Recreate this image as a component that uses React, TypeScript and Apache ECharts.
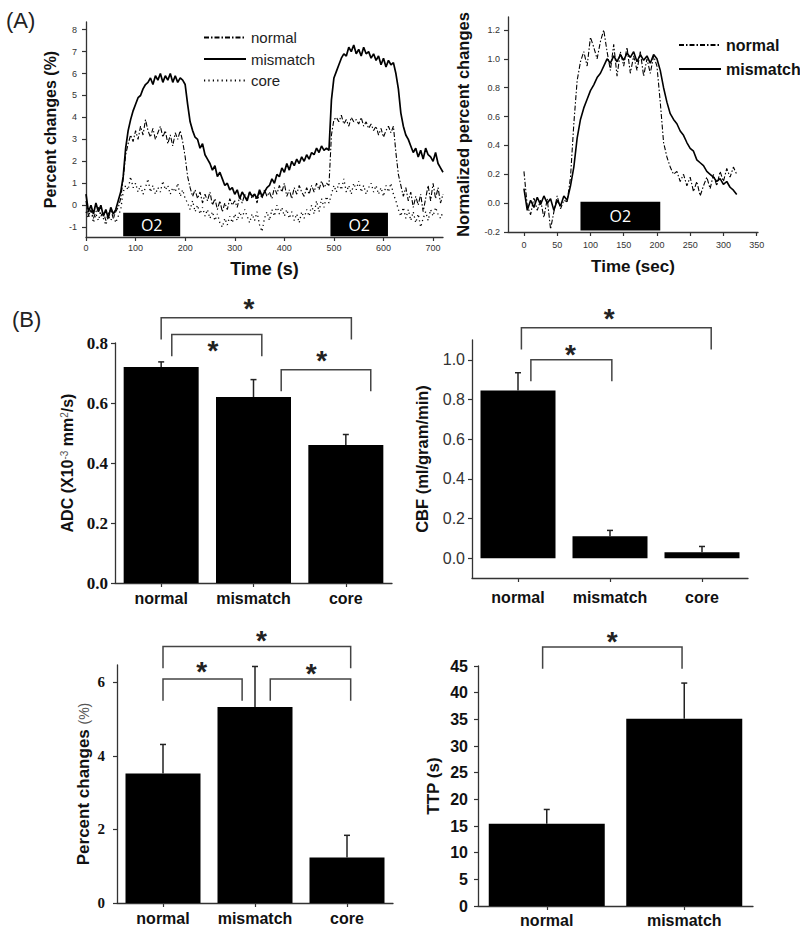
import React, { useEffect, useRef } from 'react';
import * as echarts from 'echarts';

// ---------- Panel A (left): percent change time courses, sampled every 5 s ----------
const timeStepA1 = 5;
const mismatchA1 = [
  0.5, -0.3, 0.0, -0.4, 0.1, -0.3, 0.0, -0.5, -0.2, -0.6,
  -0.1, -0.4, -0.2, 0.2, 0.6, 1.3, 2.6, 3.4, 3.9, 4.3,
  4.6, 4.9, 5.0, 5.3, 5.5, 5.6, 5.8, 5.5, 5.9, 5.7,
  6.0, 5.6, 5.9, 5.7, 6.0, 5.6, 5.9, 5.6, 5.8, 5.7,
  5.5, 4.6, 3.8, 3.4, 3.1, 3.0, 2.6, 2.8, 2.3, 2.1,
  1.9, 1.6, 1.8, 1.3, 1.5, 1.2, 0.9, 1.0, 0.7, 0.8,
  0.5, 0.7, 0.3, 0.6, 0.4, 0.2, 0.6, 0.4, 0.5, 0.3,
  0.7, 0.4, 0.6, 0.8, 0.9, 1.2, 1.0, 1.4, 1.3, 1.7,
  1.5, 1.9, 1.6, 2.0, 1.8, 2.1, 1.9, 2.2, 2.0, 2.3,
  2.1, 2.4, 2.3, 2.6, 2.4, 2.7, 2.5, 2.6, 2.5, 4.8,
  5.8, 6.1, 6.4, 6.7, 6.9, 6.8, 7.2, 7.0, 7.3, 6.9,
  7.1, 6.8, 7.2, 6.9, 7.0, 6.7, 6.9, 6.6, 6.8, 6.4,
  6.7, 6.3, 6.6, 6.4, 6.5, 6.0, 5.3, 4.2, 3.6, 3.2,
  3.0, 2.7, 2.4, 2.6, 2.2, 2.5, 2.1, 2.6, 2.3, 2.2,
  2.0, 2.4, 1.9, 1.7, 1.5,
];
const normalA1 = [
  0.2, -0.5, -0.2, -0.6, -0.3, -0.1, -0.5, -0.3, -0.7, -0.4,
  -0.2, -0.6, -0.3, -0.1, 0.3, 1.2, 2.3, 2.8, 3.2, 2.9,
  3.4, 3.0, 3.6, 3.2, 3.9, 3.4, 3.1, 3.5, 3.0, 3.3,
  3.6, 3.1, 3.4, 2.8, 3.2, 2.7, 3.3, 3.0, 3.4, 2.9,
  2.2, 1.3, 0.8, 0.4, 0.7, 0.3, 0.6, 0.1, 0.5, 0.2,
  0.6, 0.0, 0.3, -0.2, 0.2, -0.3, 0.1, -0.2, 0.3, 0.0,
  0.2, -0.1, 0.4, 0.1, 0.5, 0.2, 0.6, 0.3, 0.5, 0.1,
  0.6, 0.3, 0.7, 0.4, 0.6, 0.3, 0.8, 0.5, 0.9, 0.6,
  1.0, 0.4, 0.7, 0.3, 0.8, 0.5, 0.9, 0.6, 0.4, 0.8,
  0.5, 0.9, 0.6, 1.0, 0.7, 1.1, 0.8, 1.0, 0.9, 3.2,
  3.9, 4.0, 3.8, 4.1, 3.7, 3.9, 3.6, 4.0, 3.8, 3.9,
  3.7, 4.0, 3.6, 3.8, 3.5, 3.7, 3.4, 3.6, 3.2, 3.5,
  3.1, 3.4, 3.6, 3.3, 3.6, 2.4, 1.4, 0.9, 0.4, 0.8,
  0.2, 0.6, -0.1, 0.4, 0.0, 0.5, -0.3, 0.3, 0.9, 0.2,
  1.0, 0.3, 0.8, 0.1, 0.5,
];
const coreA1 = [
  -0.3, -0.6, -0.2, -0.8, -0.4, -0.7, -0.3, -0.6, -0.9, -0.5,
  -0.7, -0.4, -0.8, -0.5, -0.2, 0.6, 0.9, 0.7, 1.3, 0.8,
  1.0, 0.6, 0.9, 0.5, 0.8, 1.2, 0.6, 0.9, 0.5, 0.8,
  0.6, 1.1, 0.7, 0.9, 0.5, 0.8, 0.6, 1.0, 0.4, 0.7,
  0.3, 0.1, -0.2, 0.2, -0.3, 0.0, -0.4, -0.1, -0.5, -0.2,
  -0.6, -0.3, -0.7, -0.4, -0.8, -1.0, -0.6, -0.9, -0.5, -0.8,
  -0.4, -0.7, -0.3, -0.6, -0.2, -0.5, -0.8, -0.4, -0.7, -0.3,
  -0.9, -1.2, -0.6, -0.3, -0.7, -0.2, -0.5, 0.0, -0.4, -0.1,
  -0.5, -0.2, -0.6, -0.3, -0.7, -0.4, -0.8, -0.3, -0.6, -0.2,
  -0.5, 0.0, -0.4, 0.2, -0.3, 0.3, -0.1, 0.4, 0.1, 0.5,
  0.9, 0.6, 1.0, 0.7, 1.2, 0.6, 0.9, 0.5, 1.0, 0.7,
  1.1, 0.6, 0.9, 0.5, 0.8, 1.0, 0.6, 0.9, 0.5, 0.8,
  0.4, 0.9, 0.6, 1.0, 0.5, 0.2, -0.2, -0.5, -0.1, -0.6,
  -0.2, -0.7, -0.3, -0.8, -0.4, -1.0, -0.6, -0.3, -0.7, -0.2,
  -0.5, -0.1, -0.4, -0.6, -0.3,
];
const o2WindowsA1 = [[75, 190], [493, 609]];
const a1XTicks = [0, 100, 200, 300, 400, 500, 600, 700];
const a1YTicks = [-1, 0, 1, 2, 3, 4, 5, 6, 7, 8];

// ---------- Panel A (right): normalized changes, sampled every 5 s ----------
const timeStepA2 = 5;
const mismatchA2 = [
  0.10, -0.05, 0.02, -0.03, 0.04, -0.01, 0.05, 0.00, 0.03, -0.05,
  0.02, -0.02, 0.05, 0.02, 0.12, 0.25, 0.45, 0.58, 0.66, 0.72,
  0.78, 0.82, 0.87, 0.90, 0.95, 1.00, 0.97, 1.02, 0.98, 1.03,
  0.99, 1.04, 1.01, 1.05, 0.98, 1.03, 0.99, 1.02, 0.97, 1.03,
  1.00, 0.92, 0.80, 0.70, 0.62, 0.58, 0.55, 0.50, 0.47, 0.42,
  0.38, 0.36, 0.30, 0.28, 0.26, 0.22, 0.20, 0.18, 0.15, 0.17,
  0.13, 0.15, 0.11, 0.09, 0.06,
];
const normalA2 = [
  0.22, -0.02, -0.08, 0.04, -0.05, 0.02, -0.10, 0.03, -0.18, -0.06,
  0.05, -0.04, 0.02, 0.01, 0.18, 0.55, 0.85, 0.98, 1.05, 0.95,
  1.15, 1.08, 1.00, 1.12, 1.20, 1.05, 0.92, 1.10, 0.88, 1.05,
  0.95, 1.08, 0.90, 1.02, 0.92, 1.05, 0.88, 1.00, 0.90, 1.02,
  0.95, 0.70, 0.42, 0.32, 0.25, 0.20, 0.22, 0.15, 0.20, 0.12,
  0.18, 0.08, 0.15, 0.05, 0.12, 0.18, 0.10, 0.20, 0.12, 0.22,
  0.15, 0.24, 0.18, 0.25, 0.20,
];
const o2WindowsA2 = [[85, 205]];
const a2XTicks = [0, 50, 100, 150, 200, 250, 300, 350];
const a2YTicks = [-0.2, 0, 0.2, 0.4, 0.6, 0.8, 1.0, 1.2];

// ---------- Panel B: bar charts ----------
const regions3 = ['normal', 'mismatch', 'core'];
const regions2 = ['normal', 'mismatch'];
const adcMean = [0.72, 0.62, 0.46];
const adcErr = [0.017, 0.058, 0.035];
const adcTicks = [0, 0.2, 0.4, 0.6, 0.8];
const cbfMean = [0.845, 0.11, 0.03];
const cbfErr = [0.09, 0.03, 0.029];
const cbfTicks = [0, 0.2, 0.4, 0.6, 0.8, 1.0];
const pctMean = [3.52, 5.33, 1.24];
const pctErr = [0.79, 1.10, 0.60];
const pctTicks = [0, 2, 4, 6];
const ttpMean = [15.4, 35.1];
const ttpErr = [2.7, 6.7];
const ttpTicks = [0, 5, 10, 15, 20, 25, 30, 35, 40, 45];

// significance brackets: [fromCategory, toCategory, topValue, legValue, starCategory, starValue]
const adcBrackets = [
  [0, 2.06, 0.884, 0.812, 0.95, 0.935],
  [0.115, 1.09, 0.828, 0.756, 0.56, 0.795],
  [1.3, 2.27, 0.711, 0.639, 1.74, 0.762],
];
const cbfBrackets = [
  [0.037, 2.1, 1.162, 1.052, 0.99, 1.237],
  [0.14, 1.02, 1.0, 0.892, 0.57, 1.06],
];
const pctBrackets = [
  [0, 2.04, 6.97, 6.38, 1.07, 7.31],
  [0, 0.86, 6.09, 5.5, 0.42, 6.47],
  [1.166, 2.04, 6.09, 5.5, 1.61, 6.41],
];
const ttpBrackets = [[-0.03, 0.984, 48.56, 44.5, 0.476, 50.76]];

const SANS = "'Liberation Sans', Arial, sans-serif";
const SERIF = "'Liberation Serif', 'Times New Roman', serif";
const INK = '#111';
const AXIS = '#333';

const timePairs = (step: number, values: number[]) => values.map((v, i) => [i * step, v]);

const axisLineStyle = { show: true, onZero: false, lineStyle: { color: AXIS, width: 1.3 } };

function valueAxis(o: any) {
  return {
    type: 'value',
    gridIndex: o.grid,
    min: o.min,
    max: o.max,
    axisLine: axisLineStyle,
    axisTick: { show: true, length: o.tickLen ?? 4, customValues: o.ticks, lineStyle: { color: AXIS, width: 1.2 } },
    axisLabel: {
      customValues: o.ticks,
      formatter: o.fmt,
      fontSize: o.fontSize,
      fontWeight: o.fontWeight ?? 'normal',
      fontFamily: o.fontFamily ?? SANS,
      color: o.color ?? INK,
      margin: o.margin,
    },
    splitLine: { show: false },
    name: o.name,
    nameLocation: 'middle',
    nameGap: o.nameGap,
    nameTextStyle: {
      fontSize: o.nameSize,
      fontWeight: 'bold',
      fontFamily: SANS,
      color: INK,
      rich: o.rich,
    },
  };
}

function categoryAxis(o: any) {
  return {
    type: 'category',
    gridIndex: o.grid,
    data: o.data,
    axisLine: axisLineStyle,
    axisTick: { show: true, alignWithLabel: true, length: 4, lineStyle: { color: AXIS, width: 1.2 } },
    axisLabel: { interval: 0, hideOverlap: false, fontSize: 16, fontWeight: 'bold', fontFamily: SANS, color: INK, margin: o.margin },
    splitLine: { show: false },
  };
}

function barSeries(grid: number, values: number[], width: number) {
  return {
    type: 'bar',
    xAxisIndex: grid,
    yAxisIndex: grid,
    data: values,
    barWidth: width,
    itemStyle: { color: '#000' },
    silent: true,
    z: 2,
  };
}

function errorSeries(grid: number, means: number[], errs: number[]) {
  return {
    type: 'custom',
    xAxisIndex: grid,
    yAxisIndex: grid,
    data: means.map((m, i) => [i, m]),
    z: 3,
    silent: true,
    renderItem: (params: any, api: any) => {
      const i = params.dataIndex;
      const base = api.coord([i, means[i]]);
      const top = api.coord([i, means[i] + errs[i]]);
      const st = { stroke: '#222', lineWidth: 1.5 };
      return {
        type: 'group',
        children: [
          { type: 'line', shape: { x1: top[0], y1: base[1], x2: top[0], y2: top[1] }, style: st },
          { type: 'line', shape: { x1: top[0] - 3, y1: top[1], x2: top[0] + 3, y2: top[1] }, style: st },
        ],
      };
    },
  };
}

function bracketSeries(grid: number, defs: number[][]) {
  return {
    type: 'custom',
    xAxisIndex: grid,
    yAxisIndex: grid,
    clip: false,
    silent: true,
    z: 4,
    data: defs.map((d) => [0, d[2]]),
    renderItem: (params: any, api: any) => {
      const d = defs[params.dataIndex];
      const origin = api.coord([0, d[2]]);
      const band = api.size([1, 0])[0];
      const xa = origin[0] + d[0] * band;
      const xb = origin[0] + d[1] * band;
      const yTop = origin[1];
      const yLeg = api.coord([0, d[3]])[1];
      const sy = api.coord([0, d[5]])[1];
      const sx = origin[0] + d[4] * band;
      const fs = 28;
      return {
        type: 'group',
        children: [
          {
            type: 'polyline',
            shape: { points: [[xa, yLeg], [xa, yTop], [xb, yTop], [xb, yLeg]] },
            style: { stroke: '#444', lineWidth: 1.5, fill: null },
          },
          {
            type: 'text',
            style: {
              text: '*',
              x: sx,
              y: sy + fs * 0.22,
              align: 'center',
              verticalAlign: 'middle',
              fontSize: fs,
              fontWeight: 'bold',
              fontFamily: SANS,
              fill: '#222',
            },
          },
        ],
      };
    },
  };
}

function o2Area(windows: number[][], yLow: number, yHigh: number) {
  return {
    silent: true,
    itemStyle: { color: '#000' },
    label: { show: true, position: 'inside', color: '#fff', fontSize: 16, fontFamily: "'Open Sans', sans-serif" },
    data: windows.map(([a, b]) => [
      { name: 'O2', xAxis: a, yAxis: yLow },
      { xAxis: b, yAxis: yHigh },
    ]),
  };
}

const normalDash = [5, 2, 1.5, 2];
const coreDash = [1.2, 3.2];

export default function App() {
  const ref = useRef<HTMLDivElement>(null);

  useEffect(() => {
    if (!ref.current) return;
    const chart = echarts.init(ref.current, undefined, { renderer: 'svg' });
    const fmt1 = (v: number) => v.toFixed(1);
    const hiddenSymbol = { opacity: 0, borderWidth: 0 };

    chart.setOption({
      animation: false,
      backgroundColor: '#fff',
      textStyle: { fontFamily: SANS },
      grid: [
        { left: 86, top: 22, width: 357, height: 215 },
        { left: 508, top: 17, width: 250, height: 215 },
        { left: 115, top: 343, width: 277, height: 240 },
        { left: 472, top: 340, width: 276, height: 238 },
        { left: 117, top: 665, width: 276, height: 238 },
        { left: 478, top: 666, width: 275, height: 240 },
      ],
      xAxis: [
        valueAxis({ grid: 0, min: 0, max: 720, ticks: a1XTicks, fontSize: 9, color: '#333', margin: 6,
          name: 'Time (s)', nameGap: 23, nameSize: 18 }),
        valueAxis({ grid: 1, min: -24, max: 352, ticks: a2XTicks, fontSize: 9, color: '#333', margin: 8,
          name: 'Time (sec)', nameGap: 26, nameSize: 17 }),
        categoryAxis({ grid: 2, data: regions3, margin: 7 }),
        categoryAxis({ grid: 3, data: regions3, margin: 11 }),
        categoryAxis({ grid: 4, data: regions3, margin: 7 }),
        categoryAxis({ grid: 5, data: regions2, margin: 6 }),
      ],
      yAxis: [
        valueAxis({ grid: 0, min: -1.45, max: 8.35, ticks: a1YTicks, fontSize: 9, color: '#333', margin: 9,
          name: 'Percent changes (%)', nameGap: 28, nameSize: 16 }),
        valueAxis({ grid: 1, min: -0.2, max: 1.29, ticks: a2YTicks, fmt: fmt1, fontSize: 9, color: '#333', margin: 8,
          name: 'Normalized percent changes', nameGap: 37, nameSize: 16.5 }),
        valueAxis({ grid: 2, min: 0, max: 0.8, ticks: adcTicks, fmt: fmt1, fontSize: 17, fontWeight: 'bold',
          fontFamily: SERIF, margin: 7, name: 'ADC (X10{sup|-3} mm{sup|2}/s)', nameGap: 40, nameSize: 16,
          rich: { sup: { fontSize: 10, verticalAlign: 'top', fontWeight: 'normal', color: '#555', fontFamily: SANS } } }),
        valueAxis({ grid: 3, min: -0.1, max: 1.1, ticks: cbfTicks, fmt: fmt1, fontSize: 16, color: '#333',
          margin: 7, name: 'CBF (ml/gram/min)', nameGap: 42, nameSize: 16.5 }),
        valueAxis({ grid: 4, min: 0, max: 6.47, ticks: pctTicks, fontSize: 15, fontWeight: 'bold',
          fontFamily: SERIF, margin: 12, name: 'Percent changes {p|(%)}', nameGap: 25, nameSize: 17,
          rich: { p: { fontSize: 14, fontWeight: 'normal', color: '#555', fontFamily: SANS } } }),
        valueAxis({ grid: 5, min: 0, max: 45, ticks: ttpTicks, fontSize: 16, fontWeight: 'bold',
          margin: 10, name: 'TTP (s)', nameGap: 36, nameSize: 17 }),
      ],
      legend: [
        {
          data: ['normal', 'mismatch', 'core'],
          orient: 'vertical',
          left: 198,
          top: 25,
          itemWidth: 42,
          itemHeight: 14,
          itemGap: 6.5,
          selectedMode: false,
          itemStyle: hiddenSymbol,
          textStyle: { fontSize: 15, color: '#222', fontFamily: SANS },
        },
        {
          data: ['normal', 'mismatch'],
          orient: 'vertical',
          left: 673,
          top: 32,
          itemWidth: 42,
          itemHeight: 14,
          itemGap: 8,
          selectedMode: false,
          itemStyle: hiddenSymbol,
          textStyle: { fontSize: 16, fontWeight: 'bold', color: '#111', fontFamily: SANS },
        },
      ],
      graphic: [
        { type: 'text', left: 6, top: 9, style: { text: '(A)', fontSize: 22, fontFamily: SANS, fill: '#222' } },
        { type: 'text', left: 12, top: 308, style: { text: '(B)', fontSize: 22, fontFamily: SANS, fill: '#222' } },
      ],
      series: [
        {
          name: 'normal', type: 'line', xAxisIndex: 0, yAxisIndex: 0, symbol: 'none', silent: true,
          data: timePairs(timeStepA1, normalA1),
          lineStyle: { color: '#000', width: 1.1, type: normalDash },
          itemStyle: { color: '#000' },
        },
        {
          name: 'mismatch', type: 'line', xAxisIndex: 0, yAxisIndex: 0, symbol: 'none', silent: true,
          data: timePairs(timeStepA1, mismatchA1),
          lineStyle: { color: '#000', width: 1.7 },
          itemStyle: { color: '#000' },
          markArea: o2Area(o2WindowsA1, -1.42, -0.35),
        },
        {
          name: 'core', type: 'line', xAxisIndex: 0, yAxisIndex: 0, symbol: 'none', silent: true,
          data: timePairs(timeStepA1, coreA1),
          lineStyle: { color: '#000', width: 1.3, type: coreDash },
          itemStyle: { color: '#000' },
        },
        {
          name: 'normal', type: 'line', xAxisIndex: 1, yAxisIndex: 1, symbol: 'none', silent: true,
          data: timePairs(timeStepA2, normalA2),
          lineStyle: { color: '#000', width: 1.1, type: normalDash },
          itemStyle: { color: '#000' },
        },
        {
          name: 'mismatch', type: 'line', xAxisIndex: 1, yAxisIndex: 1, symbol: 'none', silent: true,
          data: timePairs(timeStepA2, mismatchA2),
          lineStyle: { color: '#000', width: 1.6 },
          itemStyle: { color: '#000' },
          markArea: o2Area(o2WindowsA2, -0.19, 0.01),
        },
        barSeries(2, adcMean, 75),
        errorSeries(2, adcMean, adcErr),
        bracketSeries(2, adcBrackets),
        barSeries(3, cbfMean, 75),
        errorSeries(3, cbfMean, cbfErr),
        bracketSeries(3, cbfBrackets),
        barSeries(4, pctMean, 75),
        errorSeries(4, pctMean, pctErr),
        bracketSeries(4, pctBrackets),
        barSeries(5, ttpMean, 116),
        errorSeries(5, ttpMean, ttpErr),
        bracketSeries(5, ttpBrackets),
      ],
    });

    return () => chart.dispose();
  }, []);

  return (
    <div
      ref={ref}
      style={{ position: 'absolute', left: 0, top: 0, width: 800, height: 934, background: '#fff' }}
    />
  );
}
